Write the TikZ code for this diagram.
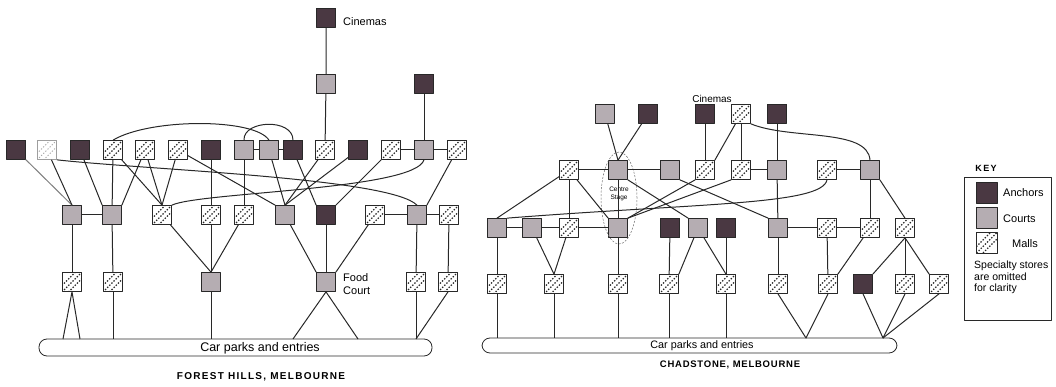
\documentclass[tikz,border=0pt]{standalone}
\usepackage{fontspec}
\setmainfont{Liberation Sans}
\usetikzlibrary{shapes.geometric}
\definecolor{anchorfill}{RGB}{74,56,66}
\definecolor{courtfill}{RGB}{181,173,178}
\definecolor{ink}{RGB}{40,40,40}
\tikzset{
	storebox/.style={draw=ink, line width=0.7pt, minimum size=19pt, inner sep=0pt},
	anchorbox/.style={storebox, fill=anchorfill},
	courtbox/.style={storebox, fill=courtfill},
	mallbox/.style={storebox, fill=white, path picture={
		\foreach \k in {-6.5pt,0pt,6.5pt}
			\draw[ink, line width=1.1pt, dash pattern=on 1.4pt off 1.6pt] ([shift={(\k-10pt,-10pt)}]path picture bounding box.center) -- ([shift={(\k+10pt,10pt)}]path picture bounding box.center);
	}},
	fadedmall/.style={mallbox, draw=ink!45, path picture={
		\foreach \k in {-6.5pt,0pt,6.5pt}
			\draw[ink!40, line width=1pt, dash pattern=on 1.2pt off 1.8pt] ([shift={(\k-10pt,-10pt)}]path picture bounding box.center) -- ([shift={(\k+10pt,10pt)}]path picture bounding box.center);
	}},
	link/.style={draw=ink, line width=1pt},
	carpark/.style={draw=ink, line width=0.8pt, rounded corners=8pt, inner sep=0pt},
	lbl/.style={font=\fontsize{11}{13}\selectfont, inner sep=0pt},
	title/.style={font=\fontsize{10}{12}\bfseries\addfontfeatures{LetterSpace=13}, inner sep=0pt},
}
\begin{document}
\begin{tikzpicture}[x=1pt, y=-1pt, line join=round]
			\useasboundingbox (0,0) rectangle (1056,387);
			\node[anchorbox] (fhcin) at (326,18) {};
			\node[lbl, anchor=west] (fhcintext) at (343,22) {Cinemas};
			\node[courtbox] (fhcrt) at (326,84) {};
			\node[anchorbox] (fhanc) at (424,84) {};
			\node[anchorbox] (fht1) at (16,150) {};
			\node[fadedmall] (fht2) at (47,150) {};
			\node[anchorbox] (fht3) at (80,150) {};
			\node[mallbox] (fht4) at (113,150) {};
			\node[mallbox] (fht5) at (145,150) {};
			\node[mallbox] (fht6) at (178,150) {};
			\node[anchorbox] (fht7) at (211,150) {};
			\node[courtbox] (fht8) at (244,150) {};
			\node[courtbox] (fht9) at (269,150) {};
			\node[anchorbox] (fht10) at (293,150) {};
			\node[mallbox] (fht11) at (325,150) {};
			\node[anchorbox] (fht12) at (358,150) {};
			\node[mallbox] (fht13) at (391,150) {};
			\node[courtbox] (fht14) at (424,150) {};
			\node[mallbox] (fht15) at (457,150) {};
			\node[courtbox] (fhm1) at (72,215) {};
			\node[courtbox] (fhm2) at (112,215) {};
			\node[mallbox] (fhm3) at (162,215) {};
			\node[mallbox] (fhm4) at (211,215) {};
			\node[mallbox] (fhm5) at (244,215) {};
			\node[courtbox] (fhm6) at (285,215) {};
			\node[anchorbox] (fhm7) at (326,215) {};
			\node[mallbox] (fhm8) at (375,215) {};
			\node[courtbox] (fhm9) at (417,215) {};
			\node[mallbox] (fhm10) at (449,215) {};
			\node[mallbox] (fhb1) at (72,282) {};
			\node[mallbox] (fhb2) at (113,282) {};
			\node[courtbox] (fhb3) at (211,282) {};
			\node[courtbox] (fhb4) at (326,282) {};
			\node[lbl, anchor=west, align=left] (fhfoodtext) at (343,284) {Food\\Court};
			\node[mallbox] (fhb5) at (416,282) {};
			\node[mallbox] (fhb6) at (448,282) {};
			\node[carpark, minimum width=393pt, minimum height=17pt] (fhbar) at (235.5,347.5) {};
			\node[lbl, font=\fontsize{12.5}{13}\selectfont] (fhbartext) at (260,348) {Car parks and entries};
			\node[title] (fhtitle) at (261,377) {FOREST HILLS, MELBOURNE};
			\coordinate (fhfoot1) at (63,339);
			\coordinate (fhfoot2) at (80,339);
			\coordinate (fhfoot3) at (293,339);
			\coordinate (fhfoot4) at (358,339);
			\coordinate (fhfoot5) at (416,339);
			\draw[link] (fhcin) -- (fhcrt) -- (fht11);
			\draw[link] (fhanc) -- (fht14);
			\draw[link] (fht8) -- (fht9) -- (fht10);
			\draw[link] (fht13) -- (fht14) -- (fht15);
			\draw[link] (fht4.north) .. controls (150,118) and (255,118) .. (fht9.north);
			\draw[link] (fht8.north) .. controls (243,120) and (293,118) .. (fht10.north);
			\draw[link, ink!60] (fht1) -- (fhm1.north);
			\draw[link] (fht2) -- (fhm1.north);
			\draw[link] (fht2.south east) .. controls (150,170) and (390,178) .. (fhm9.north);
			\draw[link] (fht3) -- (fhm2.north west);
			\draw[link] (fht4) -- (fhm2);
			\draw[link] (fht4) -- (fhm3.north);
			\draw[link] (fht5) -- (fhm2.north east);
			\draw[link] (fht5) -- (fhm3.north);
			\draw[link] (fht6) -- (fhm3.north);
			\draw[link] (fht6) -- (fhm6.north west);
			\draw[link] (fht7) -- (fhm4);
			\draw[link] (fht14.south) .. controls (415,190) and (200,192) .. (fhm3.north east);
			\draw[link] (fht8) -- (fhm5);
			\draw[link] (fht9) -- (fhm6.north);
			\draw[link] (fht10) -- (fhm7.north west);
			\draw[link] (fht11) -- (fhm6.north);
			\draw[link] (fht12) -- (fhm6.north);
			\draw[link] (fht13) -- (fhm7.north east);
			\draw[link] (fht15) -- (fhm9.north east);
			\draw[link] (fhm1) -- (fhm2);
			\draw[link] (fhm8) -- (fhm9) -- (fhm10);
			\draw[link] (fhm1) -- (fhb1);
			\draw[link] (fhm2) -- (fhb2);
			\draw[link] (fhm3) -- (fhb3.north);
			\draw[link] (fhm4) -- (fhb3);
			\draw[link] (fhm5) -- (fhb3.north);
			\draw[link] (fhm6) -- (fhb4.north west);
			\draw[link] (fhm7) -- (fhb4);
			\draw[link] (fhm8) -- (fhb4.north east);
			\draw[link] (fhm9) -- (fhb5);
			\draw[link] (fhm10) -- (fhb6);
			\draw[link] (fhfoot1) -- (fhb1.south) -- (fhfoot2);
			\draw[link] (fhb2) -- (fhb2 |- fhbar.north);
			\draw[link] (fhb3) -- (fhb3 |- fhbar.north);
			\draw[link] (fhfoot3) -- (fhb4.south) -- (fhfoot4);
			\draw[link] (fhb5) -- (fhfoot5);
			\draw[link] (fhb6.south) -- (fhfoot5);
			\node[courtbox] (chu1) at (605,114) {};
			\node[anchorbox] (chu2) at (648,114) {};
			\node[anchorbox] (chu3) at (705,114) {};
			\node[mallbox] (chu4) at (741,114) {};
			\node[anchorbox] (chu5) at (777,114) {};
			\node[lbl, font=\fontsize{10}{11}\selectfont] (chcintext) at (712,99) {Cinemas};
			\node[mallbox] (chv1) at (569,170) {};
			\node[courtbox] (chv2) at (618,170) {};
			\node[courtbox] (chv3) at (670,170) {};
			\node[mallbox] (chv4) at (705,170) {};
			\node[mallbox] (chv5) at (741,170) {};
			\node[courtbox] (chv6) at (777,170) {};
			\node[mallbox] (chv7) at (827,170) {};
			\node[courtbox] (chv8) at (870,170) {};
			\node[courtbox] (chw1) at (497,228) {};
			\node[courtbox] (chw2) at (532,228) {};
			\node[mallbox] (chw3) at (569,228) {};
			\node[courtbox] (chw4) at (618,228) {};
			\node[anchorbox] (chw5) at (670,228) {};
			\node[courtbox] (chw6) at (698,228) {};
			\node[anchorbox] (chw7) at (726,228) {};
			\node[courtbox] (chw8) at (778,228) {};
			\node[mallbox] (chw9) at (827,228) {};
			\node[mallbox] (chw10) at (870,228) {};
			\node[mallbox] (chw11) at (905,228) {};
			\node[mallbox] (chx1) at (497,284) {};
			\node[mallbox] (chx2) at (554,284) {};
			\node[mallbox] (chx3) at (618,284) {};
			\node[mallbox] (chx4) at (669,284) {};
			\node[mallbox] (chx5) at (726,284) {};
			\node[mallbox] (chx6) at (778,284) {};
			\node[mallbox] (chx7) at (828,284) {};
			\node[anchorbox] (chx8) at (863,284) {};
			\node[mallbox] (chx9) at (905,284) {};
			\node[mallbox] (chx10) at (939,284) {};
			\node[draw=ink!70, dash pattern=on 2pt off 1.5pt, line width=0.5pt, ellipse, minimum width=36pt, minimum height=92pt] (chstage) at (619,198) {};
			\node[font=\fontsize{6.5}{8}\selectfont, align=center, inner sep=0pt] (chstagetext) at (619,194) {Centre\\Stage};
			\node[carpark, minimum width=415pt, minimum height=15pt] (chbar) at (689.5,345.5) {};
			\node[lbl, font=\fontsize{10.8}{12}\selectfont] (chbartext) at (702,346) {Car parks and entries};
			\node[title, font=\fontsize{9.5}{11}\bfseries\addfontfeatures{LetterSpace=8}] (chtitle) at (730,365) {CHADSTONE, MELBOURNE};
			\coordinate (chfoot1) at (806,338);
			\coordinate (chfoot2) at (883,338);
			\draw[link] (chu1) -- (chv2.north);
			\draw[link] (chu2) -- (chv2.north);
			\draw[link] (chu3) -- (chv4);
			\draw[link] (chu4) -- (chv4.north east);
			\draw[link] (chu4) -- (chv5);
			\draw[link] (chu5) -- (chv6);
			\draw[link] (chu4.south east) .. controls (790,140) and (868,128) .. (chv8.north);
			\draw[link] (chv1) -- (chv2) -- (chv3);
			\draw[link] (chv5) -- (chv6);
			\draw[link] (chv7) -- (chv8);
			\draw[link] (chv1) -- (chw1.north);
			\draw[link] (chv1) -- (chw3);
			\draw[link] (chv1) -- (chw4.north west);
			\draw[link] (chv2) -- (chw4);
			\draw[link] (chv2.south east) -- (chw6.north west);
			\draw[link] (chv3.south east) -- (chw8.north west);
			\draw[link] (chw4.north east) -- (chv4.south west);
			\draw[link] (chw4.north east) -- (chv5.south west);
			\draw[link] (chv6) -- (chw8);
			\draw[link] (chv7.south) .. controls (822,205) and (700,203) .. (chw1.north east);
			\draw[link] (chv8) -- (chw10);
			\draw[link] (chv8.south east) -- (chw11.north);
			\draw[link] (chw1) -- (chw2) -- (chw3) -- (chw4);
			\draw[link] (chw8) -- (chw9) -- (chw10);
			\draw[link] (chw1) -- (chx1);
			\draw[link] (chw2) -- (chx2.north);
			\draw[link] (chw3) -- (chx2.north);
			\draw[link] (chw4) -- (chx3);
			\draw[link] (chw5) -- (chx4);
			\draw[link] (chw6) -- (chx4.north east);
			\draw[link] (chw6) -- (chx5.north);
			\draw[link] (chw7) -- (chx5);
			\draw[link] (chw8) -- (chx6);
			\draw[link] (chw9) -- (chx7);
			\draw[link] (chw10) -- (chx7.north east);
			\draw[link] (chw11.south) -- (chx8.north east);
			\draw[link] (chw11) -- (chx9);
			\draw[link] (chw11.south) -- (chx10.north west);
			\draw[link] (chx1) -- (chx1 |- chbar.north);
			\draw[link] (chx2) -- (chx2 |- chbar.north);
			\draw[link] (chx3) -- (chx3 |- chbar.north);
			\draw[link] (chx4) -- (chx4 |- chbar.north);
			\draw[link] (chx5) -- (chx5 |- chbar.north);
			\draw[link] (chx6.south) -- (chfoot1) -- (chx7.south);
			\draw[link] (chx8.south) -- (chfoot2) -- (chx9.south);
			\draw[link] (chx10.south) -- (chfoot2);
			\node[title, font=\fontsize{9}{10}\bfseries\addfontfeatures{LetterSpace=15}] (keytitle) at (986,168) {KEY};
			\node[draw=ink, line width=0.8pt, minimum width=87pt, minimum height=143pt] (keybox) at (1007.5,248.5) {};
			\node[anchorbox, minimum size=21pt] (keyanc) at (986.5,192.5) {};
			\node[courtbox, minimum size=21pt] (keycrt) at (986.5,218) {};
			\node[mallbox, minimum size=21pt] (keymall) at (986.5,243) {};
			\node[lbl, anchor=west] (keyanctext) at (1003,193) {Anchors};
			\node[lbl, anchor=west] (keycrttext) at (1003,219) {Courts};
			\node[lbl, anchor=west] (keymalltext) at (1012,244) {Malls};
			\node[lbl, anchor=north west, align=left, font=\fontsize{10.5}{11.5}\selectfont] (keynote) at (974,261) {Specialty stores\\are omitted\\for clarity};
\end{tikzpicture}
\end{document}
